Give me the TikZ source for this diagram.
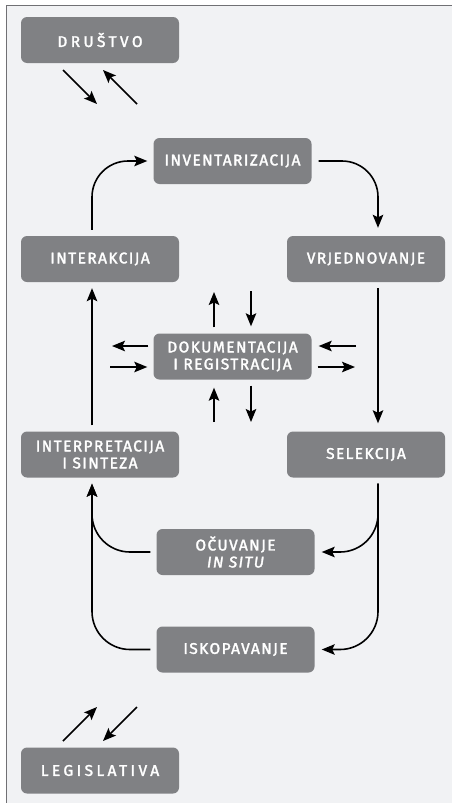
\documentclass[tikz,border=0pt]{standalone}
\usepackage{fontspec}
\usetikzlibrary{arrows.meta}
\newfontfamily\boxfont[LetterSpace=9,FakeBold=2]{Fira Sans}
\newfontfamily\widefont[LetterSpace=22,FakeBold=2]{Fira Sans}
\definecolor{boxgray}{HTML}{808184}
\definecolor{pagegray}{HTML}{F1F2F4}
\definecolor{framegray}{HTML}{707074}
\tikzset{
  box/.style={rectangle, rounded corners=6pt, fill=boxgray, text=white,
    minimum width=158pt, minimum height=46pt, inner sep=0pt, align=center,
    font=\boxfont\fontsize{15.5}{17}\selectfont},
  widebox/.style={box, font=\widefont\fontsize{15.5}{17}\selectfont},
  flow/.style={line width=1.6pt, -{Stealth[length=13pt,width=10.5pt,inset=2.5pt]}}
}
\begin{document}
\begin{tikzpicture}[x=1pt,y=-1pt]
  \useasboundingbox (0,0) rectangle (452,803);
  \fill[pagegray] (6,5) rectangle (452,803);
  \draw[framegray,line width=1.5pt] (6.5,803) -- (6.5,5.5) -- (452,5.5);
  \draw
    (100,40) node[widebox] (drustvo){DRUŠTVO}
    (232.5,161) node[box] (inv){INVENTARIZACIJA}
    (100,259) node[box] (interakcija){INTERAKCIJA}
    (366,259) node[box] (vrj){VRJEDNOVANJE}
    (232.5,356.5) node[box] (dok){DOKUMENTACIJA\\I REGISTRACIJA}
    (100,454.5) node[box] (interp){INTERPRETACIJA\\I SINTEZA}
    (366,454.5) node[box] (sel){SELEKCIJA}
    (235.5,552) node[box] (ocuv){OČUVANJE\\\itshape IN SITU}
    (235.5,649.5) node[box] (iskop){ISKOPAVANJE}
    (100,770.5) node[widebox] (legis){LEGISLATIVA};
  \coordinate (d1) at (63,70);
  \coordinate (d2) at (97,104);
  \coordinate (d3) at (137,104);
  \coordinate (d4) at (103,70);
  \coordinate (l1) at (63,741);
  \coordinate (l2) at (97,707);
  \coordinate (l3) at (137,707);
  \coordinate (l4) at (103,741);
  \coordinate (dn1) at (214,292);
  \coordinate (dn2) at (251,291);
  \coordinate (ds1) at (214,422);
  \coordinate (ds2) at (251,422);
  \coordinate (dw1) at (112,346);
  \coordinate (dw2) at (110,367);
  \coordinate (de1) at (356,346);
  \coordinate (de2) at (355,367);
  \begin{scope}[flow]
    \draw (d1) to (d2);
    \draw (d3) to (d4);
    \draw (l1) to (l2);
    \draw (l3) to (l4);
    \draw[rounded corners=36pt] ([xshift=-8pt,yshift=6pt]interakcija.north) |- ([xshift=-6pt]inv.west);
    \draw[rounded corners=36pt] ([xshift=7pt]inv.east) -| ([xshift=12pt,yshift=8pt]vrj.north);
    \draw ([xshift=12pt,yshift=-6pt]vrj.south) to ([xshift=12pt,yshift=8pt]sel.north);
    \draw ([xshift=-8pt,yshift=6pt]interp.north) to ([xshift=-8pt,yshift=-6pt]interakcija.south);
    \draw[rounded corners=38pt] ([xshift=12pt,yshift=-6pt]sel.south) |- ([xshift=7pt]ocuv.east);
    \draw[rounded corners=38pt] ([xshift=12pt,yshift=-6pt]sel.south) |- ([xshift=7pt]iskop.east);
    \draw[rounded corners=38pt] ([xshift=-6pt]ocuv.west) -| ([xshift=-8pt,yshift=-6pt]interp.south);
    \draw[rounded corners=38pt] ([xshift=-6pt]iskop.west) -| ([xshift=-8pt,yshift=-6pt]interp.south);
    \draw ([xshift=-18.5pt,yshift=6pt]dok.north) to (dn1);
    \draw (dn2) to ([xshift=18.5pt,yshift=7pt]dok.north);
    \draw (ds1) to ([xshift=-18.5pt,yshift=-8pt]dok.south);
    \draw ([xshift=18.5pt,yshift=-6pt]dok.south) to (ds2);
    \draw ([xshift=-5pt,yshift=10.5pt]dok.west) to (dw1);
    \draw (dw2) to ([xshift=-6pt,yshift=-10.5pt]dok.west);
    \draw (de1) to ([xshift=7pt,yshift=10.5pt]dok.east);
    \draw ([xshift=6pt,yshift=-10.5pt]dok.east) to (de2);
  \end{scope}
\end{tikzpicture}
\end{document}
